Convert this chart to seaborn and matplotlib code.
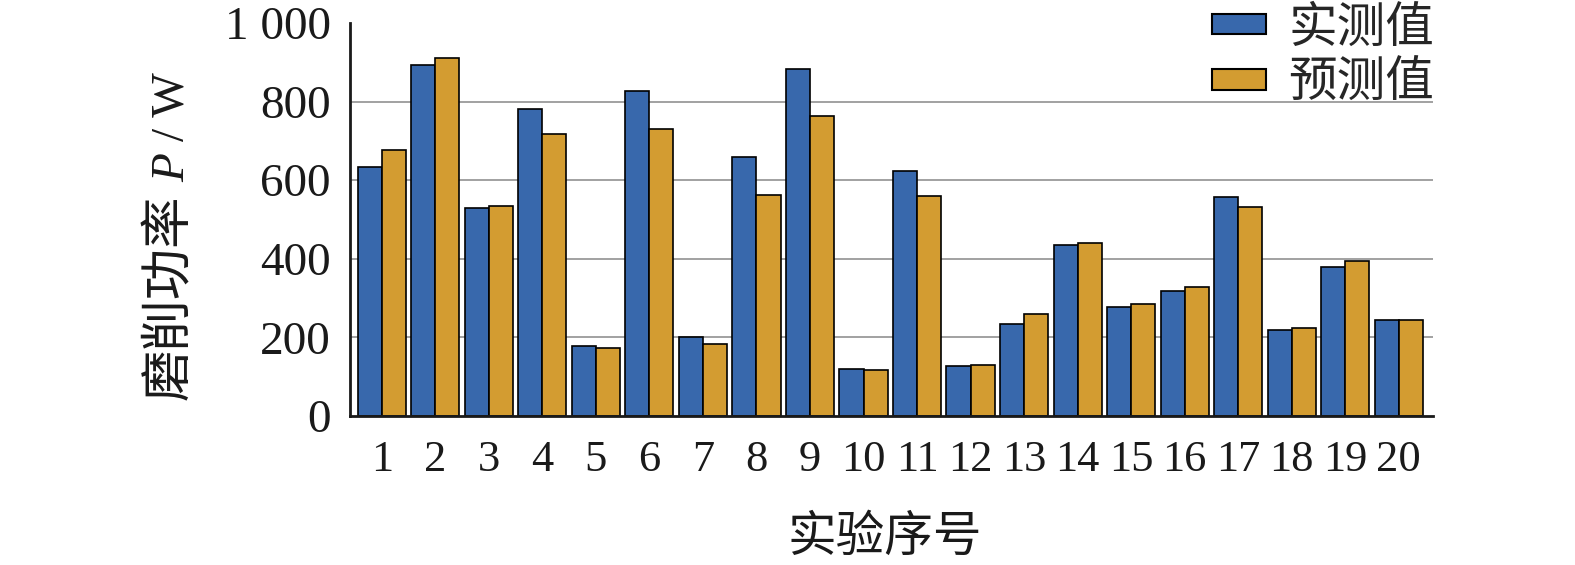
import matplotlib
matplotlib.use("Agg")
import matplotlib.pyplot as plt
import matplotlib.patches as mpatches
from matplotlib.ticker import FixedLocator, FixedFormatter
import numpy as np
import pandas as pd
import seaborn as sns

# Grinding power per experiment run
runs = [str(i) for i in range(1, 21)]
measured = [633, 894, 530, 782, 177, 828, 200, 658, 884, 120,
            624, 126, 234, 436, 278, 318, 558, 219, 378, 245]
predicted = [677, 910, 535, 718, 174, 731, 182, 563, 763, 118,
             561, 129, 259, 441, 286, 327, 533, 225, 395, 245]
series_names = ["实测值", "预测值"]
y_ticks = [0, 200, 400, 600, 800, 1000]
y_tick_labels = ["0", "200", "400", "600", "800", "1 000"]
x_title = "实验序号"
# y title pieces: quantity name, symbol (italic), unit
y_title_name = "磨削功率"
y_title_symbol = "P"
y_title_unit = "/ W"

colors = ["#3868AC", "#D39C31"]

df = pd.DataFrame({
    "run": runs * 2,
    "power": measured + predicted,
    "series": [series_names[0]] * len(runs) + [series_names[1]] * len(runs),
})

sns.set_theme(style="white")
CJK = ["Noto Sans CJK SC"]
SERIF = ["Liberation Serif", "Noto Sans CJK SC"]
plt.rcParams["font.family"] = SERIF
INK = "#1a1a1a"

W_PX, H_PX = 1575, 565
fig = plt.figure(figsize=(W_PX / 100, H_PX / 100), dpi=100)
ax = fig.add_axes([350 / W_PX, 1 - 416 / H_PX, (1433 - 350) / W_PX, (416 - 23) / H_PX])

sns.barplot(data=df, x="run", y="power", hue="series", order=runs,
            hue_order=series_names, palette=colors, saturation=1,
            width=0.9, edgecolor="black", linewidth=1.2, ax=ax, zorder=3)

ax.set_xlim(-0.594, 19.64)
ax.set_ylim(0, 1000)
ax.yaxis.set_major_locator(FixedLocator(y_ticks))
ax.yaxis.set_major_formatter(FixedFormatter(y_tick_labels))

# Horizontal reference lines behind the bars, none at the top
for v in y_ticks[1:-1]:
    ax.axhline(v, color="#9a9a9a", linewidth=1.3, zorder=1)

for side in ["top", "right"]:
    ax.spines[side].set_visible(False)
for side in ["left", "bottom"]:
    ax.spines[side].set_linewidth(2.0)
    ax.spines[side].set_color(INK)
    ax.spines[side].set_zorder(5)

ax.tick_params(axis="y", direction="in", length=9.5, width=1.8,
               color=INK, labelsize=34, pad=14, labelcolor=INK)
ax.tick_params(axis="x", length=0, labelsize=32, pad=17.5, labelcolor=INK)

# Small upturned end mark at the right end of the x axis
ax.set_xticks([19.64], minor=True)
ax.tick_params(axis="x", which="minor", direction="in", length=9, width=2.0,
               color=INK, labelbottom=False)

ax.set_xlabel(x_title, fontsize=35, color=INK, family=CJK)
ax.xaxis.set_label_coords(0.494, -0.245)
ax.set_ylabel("")

# Vertical y title built from pieces sharing one baseline
renderer = fig.canvas.get_renderer()
x_base = 184 / W_PX
y_cursor = H_PX - 400  # display pixels from the bottom
pieces = [
    (y_title_name, dict(family=CJK, fontsize=37), 13),
    (y_title_symbol, dict(family=SERIF, style="italic", fontsize=34), 12),
    (y_title_unit, dict(family=SERIF, fontsize=34), 0),
]
for text, props, gap in pieces:
    t = fig.text(x_base, y_cursor / H_PX, text, rotation=90,
                 rotation_mode="anchor", ha="left", va="baseline",
                 color=INK, **props)
    ext = t.get_window_extent(renderer)
    y_cursor += ext.height + gap

if ax.get_legend() is not None:
    ax.get_legend().remove()
handles = [mpatches.Patch(facecolor=c, edgecolor="black", linewidth=1.5)
           for c in colors]
fig.legend(handles, series_names, loc="upper left",
           bbox_to_anchor=(1212 / W_PX, 1 - 3 / H_PX), frameon=False,
           prop={"family": CJK, "size": 35},
           handlelength=1.12, handleheight=0.28,
           handletextpad=0.45, labelspacing=0.12, borderpad=0, borderaxespad=0)

fig.savefig("out.png", dpi=100, facecolor="white")
